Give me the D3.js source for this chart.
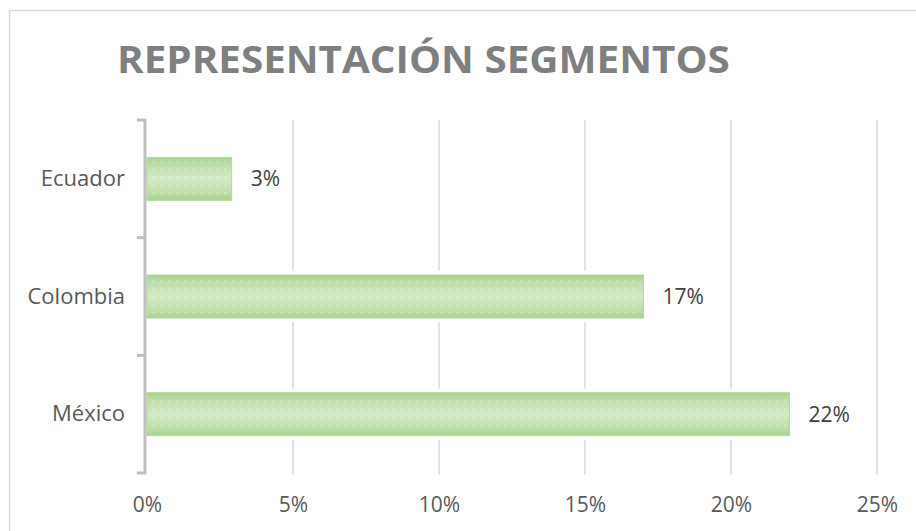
<!DOCTYPE html>
<html>
<head>
<meta charset="utf-8">
<script src="https://cdn.jsdelivr.net/npm/d3@7"></script>
<style>
  body { margin: 0; background: #fff; }
  svg { display: block; font-family: 'Open Sans', sans-serif; }
</style>
</head>
<body>
<div id="chart"></div>
<script>
const categories = ['Ecuador', 'Colombia', 'México']
const shares = [0.029, 0.17, 0.22]
const xTicks = [0, 0.05, 0.1, 0.15, 0.2, 0.25]
const title = 'REPRESENTACIÓN SEGMENTOS'

const width = 916,
  height = 531

const svg = d3
  .select('#chart')
  .append('svg')
  .attr('width', width)
  .attr('height', height)

// outer chart border
svg.append('rect')
  .attr('x', 9.5)
  .attr('y', 10.5)
  .attr('width', width)
  .attr('height', height)
  .attr('fill', '#fff')
  .attr('stroke', '#d9d9d9')
  .attr('stroke-width', 1.5)

const defs = svg.append('defs')
const grad = defs.append('linearGradient')
  .attr('id', 'barFill')
  .attr('x1', 0).attr('y1', 0).attr('x2', 0).attr('y2', 1)
;[['0%', '#a9d18e'], ['18%', '#bfdeaa'], ['50%', '#d3e9c6'], ['82%', '#bfdeaa'], ['100%', '#a9d18e']]
  .forEach(s => grad.append('stop').attr('offset', s[0]).attr('stop-color', s[1]))

const pat = defs.append('pattern')
  .attr('id', 'dots')
  .attr('patternUnits', 'userSpaceOnUse')
  .attr('width', 8).attr('height', 8)
pat.append('rect').attr('x', 0).attr('y', 0).attr('width', 3).attr('height', 3)
  .attr('fill', '#fff').attr('opacity', 0.2)

const x = d3.scaleLinear().domain([0, 0.25]).range([147, 877])
const y = d3.scaleBand().domain(categories).range([120, 473])
  .paddingInner(0.635).paddingOuter(0.3175)

// title, fitted to the width of the original
const titleText = svg.append('text')
  .attr('x', 0)
  .attr('y', 0)
  .attr('font-size', 38)
  .attr('font-weight', 'bold')
  .attr('fill', '#7f7f7f')
  .text(title)
const tw = titleText.node().getComputedTextLength()
titleText.attr('transform', `translate(117, 73) scale(${613 / tw}, 1)`)

// vertical gridlines
svg.append('g')
  .selectAll('line')
  .data(xTicks.slice(1))
  .enter()
  .append('line')
  .attr('x1', d => x(d)).attr('x2', d => x(d))
  .attr('y1', 120).attr('y2', 475)
  .attr('stroke', '#d9d9d9')
  .attr('stroke-width', 1.5)

// x tick labels
const xAxis = svg.append('g')
  .attr('transform', 'translate(0, 475)')
  .call(d3.axisBottom(x).tickValues(xTicks).tickFormat(d3.format('.0%')).tickSize(0).tickPadding(22))
xAxis.select('.domain').remove()
xAxis.selectAll('text')
  .attr('font-size', 21)
  .attr('font-family', "'Open Sans', sans-serif")
  .attr('fill', '#595959')

// bars
const bars = svg.append('g')
  .selectAll('g')
  .data(categories.map((c, i) => ({ name: c, value: shares[i] })))
  .enter()
  .append('g')

bars.append('rect')
  .attr('x', x(0))
  .attr('y', d => y(d.name) - 4)
  .attr('width', d => x(d.value) - x(0) + 2)
  .attr('height', y.bandwidth() + 8)
  .attr('fill', '#fff')

bars.append('rect')
  .attr('x', x(0))
  .attr('y', d => y(d.name))
  .attr('width', d => x(d.value) - x(0))
  .attr('height', y.bandwidth())
  .attr('fill', 'url(#barFill)')
  .attr('stroke', '#b2d89a')
  .attr('stroke-width', 1)

bars.append('rect')
  .attr('x', x(0) + 3)
  .attr('y', d => y(d.name) + 4)
  .attr('width', d => Math.max(0, x(d.value) - x(0) - 6))
  .attr('height', y.bandwidth() - 8)
  .attr('fill', 'url(#dots)')

// data labels
bars.append('text')
  .attr('x', d => x(d.value) + 19)
  .attr('y', d => y(d.name) + y.bandwidth() / 2)
  .attr('dy', '0.35em')
  .attr('font-size', 21)
  .attr('fill', '#404040')
  .text(d => d3.format('.0%')(d.value))

// y axis with category labels
const yAxis = svg.append('g')
  .attr('transform', 'translate(146, 0)')
  .call(d3.axisLeft(y).tickSize(0).tickPadding(21))
yAxis.select('.domain').remove()
yAxis.selectAll('text')
  .attr('font-size', 22)
  .attr('font-family', "'Open Sans', sans-serif")
  .attr('fill', '#595959')

svg.append('line')
  .attr('x1', 145).attr('x2', 145)
  .attr('y1', 119).attr('y2', 474)
  .attr('stroke', '#bfbfbf')
  .attr('stroke-width', 3)

// category boundary tick marks
svg.append('g')
  .selectAll('line')
  .data(d3.range(categories.length + 1))
  .enter()
  .append('line')
  .attr('x1', 137).attr('x2', 146)
  .attr('y1', i => 120 + i * y.step())
  .attr('y2', i => 120 + i * y.step())
  .attr('stroke', '#bfbfbf')
  .attr('stroke-width', 3)
</script>
</body>
</html>
